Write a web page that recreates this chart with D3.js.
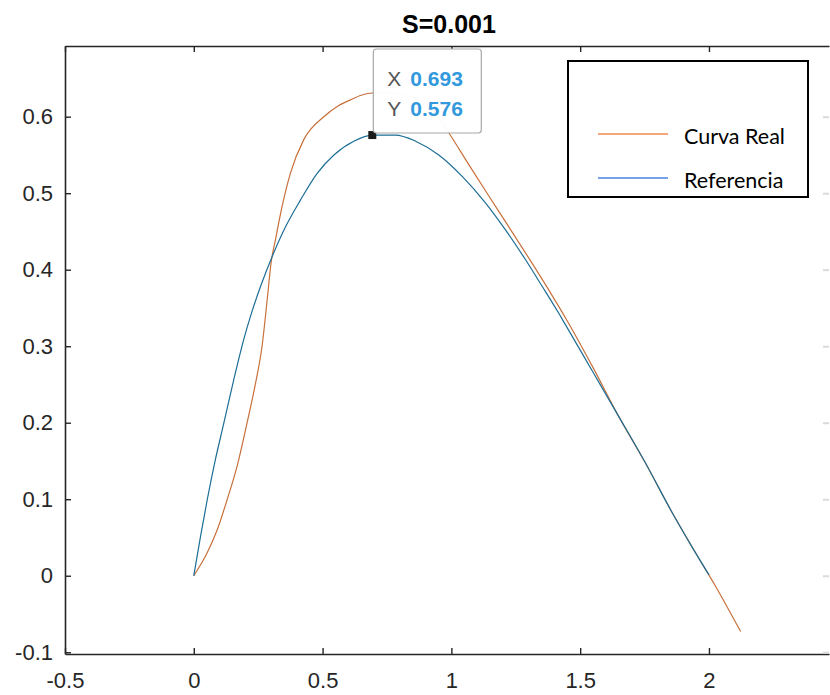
<!DOCTYPE html>
<html>
<head>
<meta charset="utf-8">
<script src="https://cdn.jsdelivr.net/npm/d3@7"></script>
<style>
  html, body { margin: 0; padding: 0; background: #ffffff; }
  svg { display: block; }
</style>
</head>
<body>
<div id="chart"></div>
<script>
// Reference trajectory (blue) and actual response (orange)
const refX  = [0, 0.026, 0.052, 0.084, 0.117, 0.155, 0.194, 0.220, 0.259, 0.304, 0.350, 0.414, 0.479, 0.544, 0.621, 0.693, 0.783, 0.861, 0.951, 1.042, 1.133, 1.210, 1.288, 1.353, 1.417, 1.450, 1.550, 1.650, 1.754, 1.858, 1.930, 2.000];
const refY  = [0, 0.051, 0.099, 0.152, 0.200, 0.256, 0.309, 0.339, 0.378, 0.417, 0.452, 0.491, 0.526, 0.550, 0.568, 0.576, 0.576, 0.568, 0.550, 0.522, 0.487, 0.452, 0.413, 0.378, 0.343, 0.324, 0.266, 0.208, 0.147, 0.082, 0.040, 0.001];

const realX = [0, 0.052, 0.091, 0.129, 0.168, 0.207, 0.240, 0.265, 0.285, 0.300, 0.317, 0.343, 0.375, 0.427, 0.505, 0.560, 0.608, 0.650, 0.693, 0.750, 0.800, 0.850, 0.900, 0.940, 0.988, 1.072, 1.146, 1.223, 1.301, 1.379, 1.450, 1.550, 1.650, 1.754, 1.858, 1.948, 2.026, 2.123];
const realY = [0, 0.030, 0.060, 0.099, 0.143, 0.200, 0.252, 0.300, 0.361, 0.409, 0.439, 0.483, 0.526, 0.570, 0.600, 0.614, 0.622, 0.628, 0.631, 0.631, 0.630, 0.626, 0.617, 0.604, 0.580, 0.535, 0.496, 0.456, 0.415, 0.373, 0.333, 0.272, 0.208, 0.147, 0.082, 0.030, -0.014, -0.073];

const xTickValues = [-0.5, 0, 0.5, 1, 1.5, 2];
const xTickLabels = ["-0.5", "0", "0.5", "1", "1.5", "2"];
const yTickValues = [-0.1, 0, 0.1, 0.2, 0.3, 0.4, 0.5, 0.6];
const yTickLabels = ["-0.1", "0", "0.1", "0.2", "0.3", "0.4", "0.5", "0.6"];

const seriesNames = ["Curva Real", "Referencia"];
const titleText = "S=0.001";

// Data tip on the reference peak
const tipX = 0.693;
const tipY = 0.576;

const W = 830, H = 695;
const axLeft = 65, axRight = 829, axTop = 46, axBottom = 654;

const x = d3.scaleLinear().domain([-0.5, 2.466]).range([axLeft, axRight]);
const y = d3.scaleLinear().domain([-0.1023, 0.6924]).range([axBottom, axTop]);

const svg = d3.select("#chart").append("svg")
  .attr("width", W).attr("height", H);

const axisColor = "#262626";
const fontTick = "'Liberation Sans', Arial, Helvetica, sans-serif";

// Plot curves (clipped to axes box)
svg.append("clipPath").attr("id", "plotclip")
  .append("rect").attr("x", axLeft).attr("y", axTop)
  .attr("width", axRight - axLeft).attr("height", axBottom - axTop);

const line = d3.line()
  .x(d => x(d[0])).y(d => y(d[1]))
  .curve(d3.curveMonotoneX);

const plot = svg.append("g").attr("clip-path", "url(#plotclip)");

plot.append("path")
  .datum(realX.map((v, i) => [v, realY[i]]))
  .attr("d", line)
  .attr("fill", "none")
  .attr("stroke", "#c8703a")
  .attr("stroke-width", 1.2);

plot.append("path")
  .datum(refX.map((v, i) => [v, refY[i]]))
  .attr("d", line)
  .attr("fill", "none")
  .attr("stroke", "#1d6e96")
  .attr("stroke-width", 1.2);

// Axes: bottom and left with labels, top mirrored ticks
const tickLen = 6;

const xAxisBottom = d3.axisBottom(x)
  .tickValues(xTickValues)
  .tickFormat((d, i) => xTickLabels[i])
  .tickSizeInner(-tickLen).tickSizeOuter(0).tickPadding(18);

const gxb = svg.append("g").attr("transform", `translate(0,${axBottom})`).call(xAxisBottom);
gxb.select(".domain").attr("stroke", axisColor).attr("stroke-width", 1.6);
gxb.selectAll(".tick line").attr("stroke", axisColor).attr("stroke-width", 1.4);
gxb.selectAll(".tick text")
  .attr("fill", axisColor)
  .style("font-family", fontTick).style("font-size", "22px");

const xAxisTop = d3.axisTop(x)
  .tickValues(xTickValues)
  .tickFormat("")
  .tickSizeInner(-tickLen).tickSizeOuter(0);

const gxt = svg.append("g").attr("transform", `translate(0,${axTop})`).call(xAxisTop);
gxt.select(".domain").attr("stroke", axisColor).attr("stroke-width", 1.6);
gxt.selectAll(".tick line").attr("stroke", axisColor).attr("stroke-width", 1.4);

const yAxisLeft = d3.axisLeft(y)
  .tickValues(yTickValues)
  .tickFormat((d, i) => yTickLabels[i])
  .tickSizeInner(-tickLen).tickSizeOuter(0).tickPadding(12);

const gyl = svg.append("g").attr("transform", `translate(${axLeft},0)`).call(yAxisLeft);
gyl.select(".domain").attr("stroke", axisColor).attr("stroke-width", 1.6);
gyl.selectAll(".tick line").attr("stroke", axisColor).attr("stroke-width", 1.4);
gyl.selectAll(".tick text")
  .attr("fill", axisColor)
  .style("font-family", fontTick).style("font-size", "22px");

// Right-side mirrored ticks, at the very edge of the frame
const yAxisRight = d3.axisRight(y)
  .tickValues(yTickValues)
  .tickFormat("")
  .tickSizeInner(-tickLen).tickSizeOuter(0);
const gyr = svg.append("g").attr("transform", `translate(${axRight},0)`).call(yAxisRight);
gyr.select(".domain").remove();
gyr.selectAll(".tick line").attr("stroke", "#dadada").attr("stroke-width", 2);

// Title
svg.append("text")
  .attr("x", (axLeft + axRight) / 2 + 2)
  .attr("y", 33)
  .attr("text-anchor", "middle")
  .style("font-family", fontTick)
  .style("font-size", "25px")
  .style("font-weight", "bold")
  .attr("fill", "#000")
  .text(titleText);

// Data tip marker and box
const mx = x(tipX), my = y(tipY);
svg.append("rect")
  .attr("x", mx - 4).attr("y", my - 4)
  .attr("width", 8).attr("height", 8)
  .attr("fill", "#1a1a1a");

const tipBox = svg.append("g").attr("transform", `translate(${mx + 1},49)`);
tipBox.append("rect")
  .attr("x", 0).attr("y", 0)
  .attr("width", 108).attr("height", 84)
  .attr("rx", 3).attr("ry", 3)
  .attr("fill", "#ffffff").attr("fill-opacity", 0.97)
  .attr("stroke", "#a8a8a8").attr("stroke-width", 1.2);

const tipRows = [["X", tipX.toFixed(3), 37], ["Y", tipY.toFixed(3), 67]];
tipRows.forEach(([k, v, by]) => {
  const t = tipBox.append("text")
    .attr("x", 14).attr("y", by)
    .style("font-family", fontTick).style("font-size", "21px");
  t.append("tspan").attr("fill", "#555555").text(k);
  t.append("tspan").attr("x", 37).attr("fill", "#3399dd")
    .style("font-weight", "bold").text(v);
});

// Legend
const legend = svg.append("g");
legend.append("rect")
  .attr("x", 568).attr("y", 61)
  .attr("width", 240).attr("height", 136)
  .attr("fill", "#ffffff")
  .attr("stroke", "#000000").attr("stroke-width", 2);

const legendColors = ["#f08a50", "#4a82e0"];
const legendRowsY = [134, 178];
seriesNames.forEach((name, i) => {
  legend.append("line")
    .attr("x1", 598).attr("x2", 668)
    .attr("y1", legendRowsY[i]).attr("y2", legendRowsY[i])
    .attr("stroke", legendColors[i]).attr("stroke-width", 1.6);
  legend.append("text")
    .attr("x", 684).attr("y", legendRowsY[i] + 10)
    .style("font-family", "Lato, 'Open Sans', sans-serif")
    .style("font-size", "21.5px")
    .attr("fill", "#000")
    .text(name);
});
</script>
</body>
</html>
